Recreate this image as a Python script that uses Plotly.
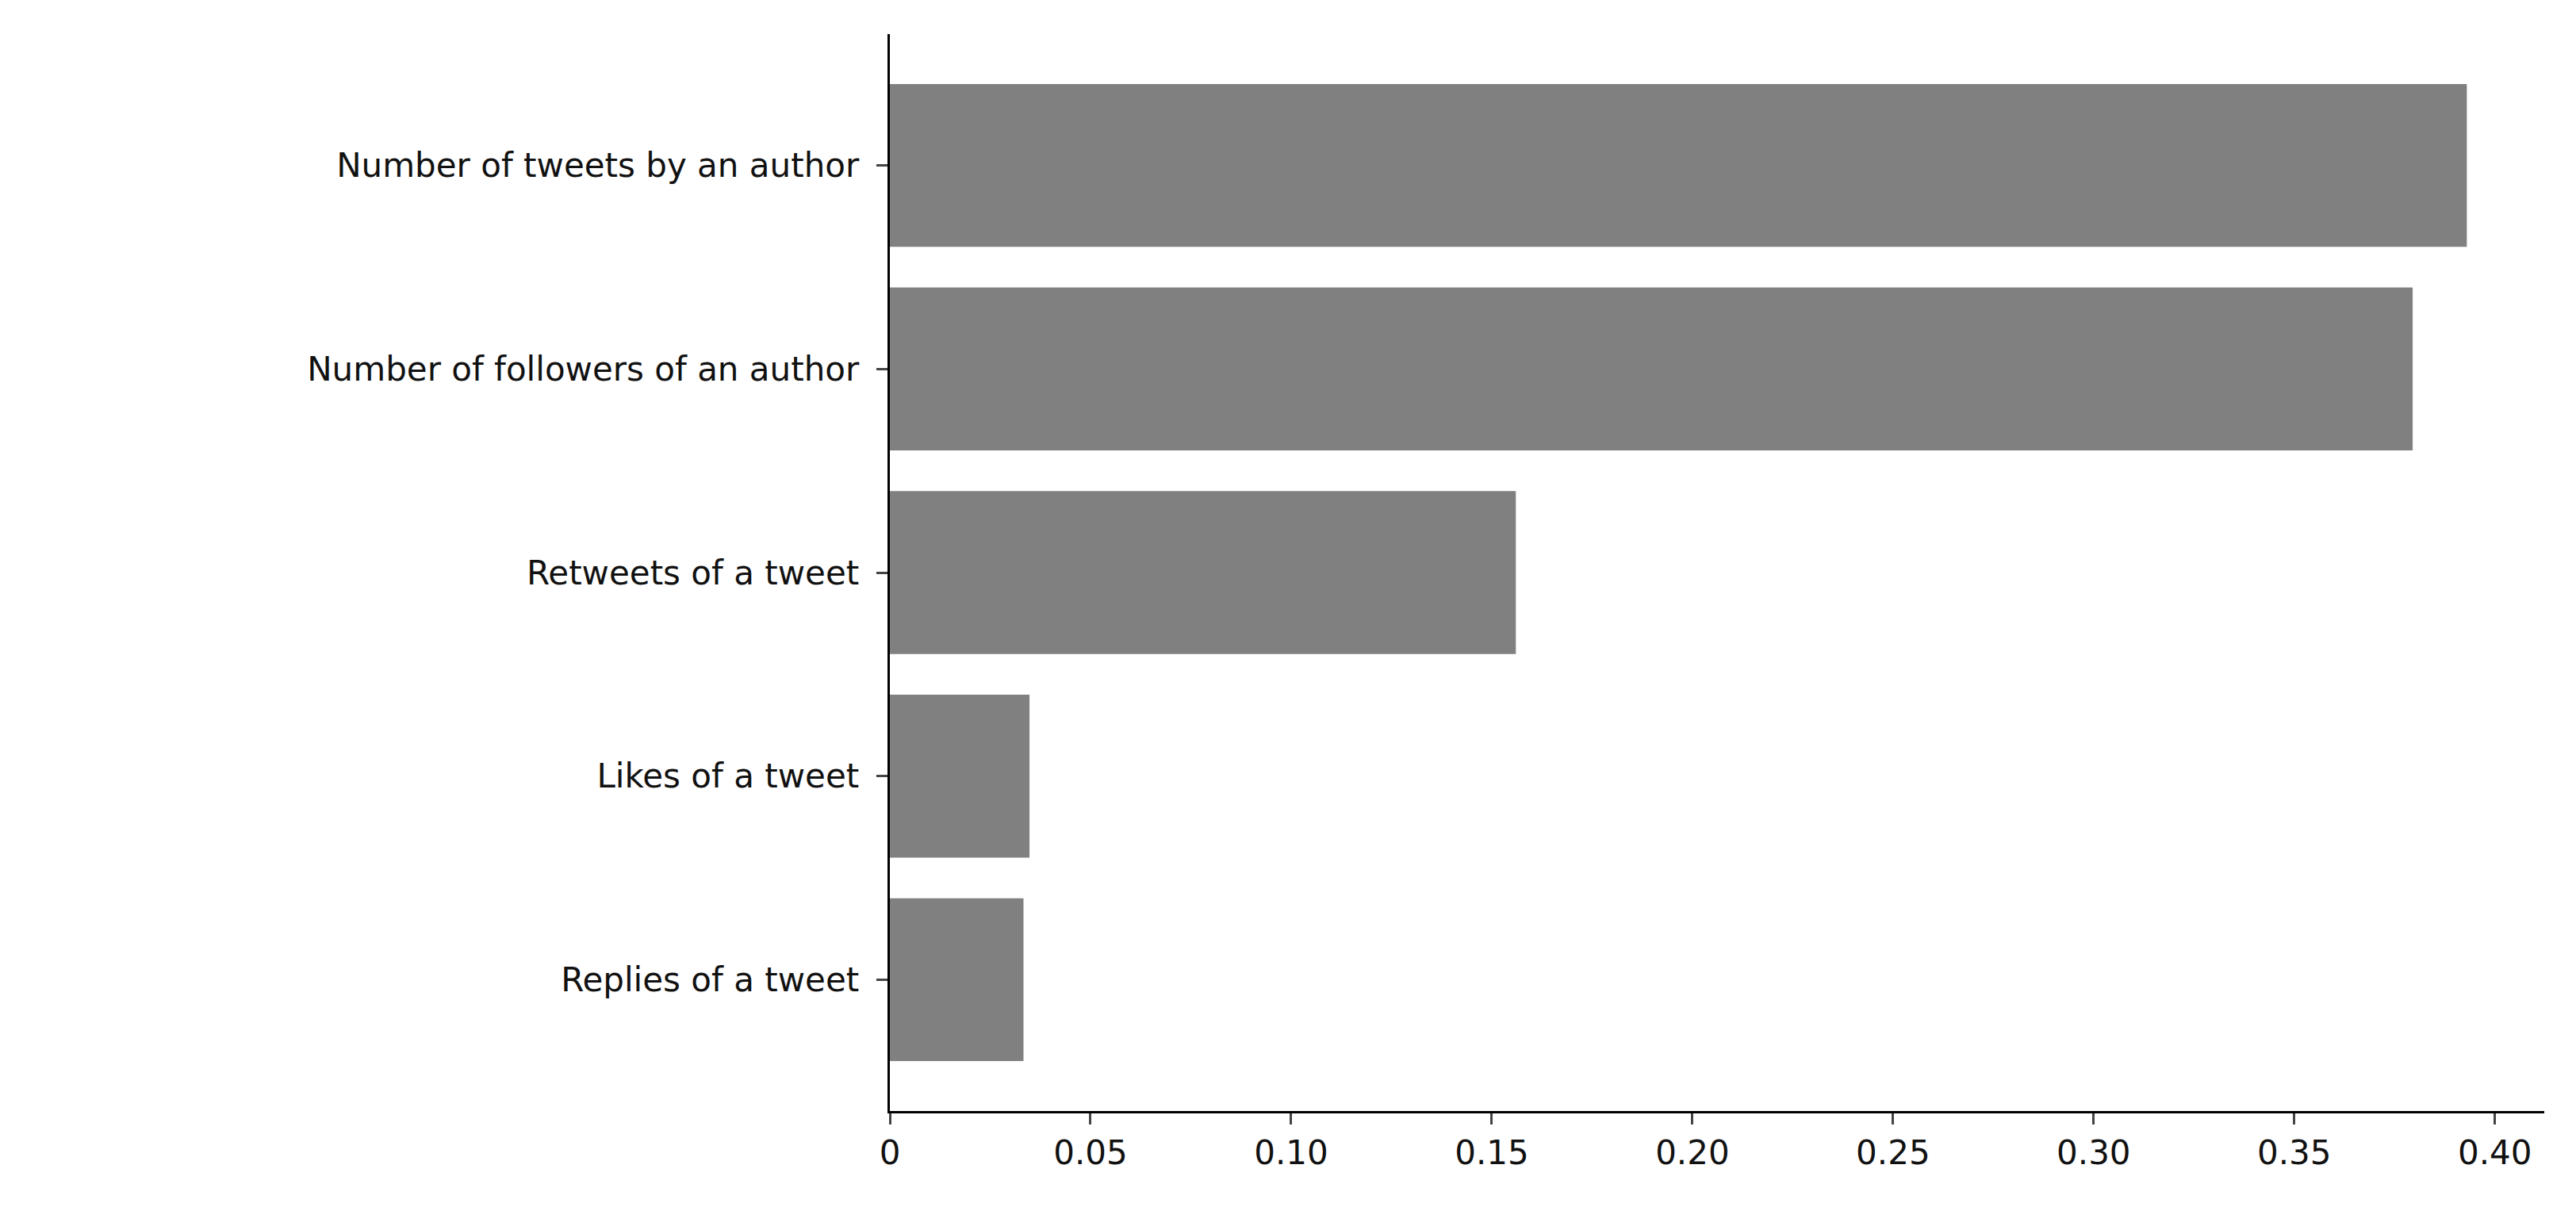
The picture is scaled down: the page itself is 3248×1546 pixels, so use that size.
import plotly.graph_objects as go

categories = ["Number of tweets by an author", "Number of followers of an author",
              "Retweets of a tweet", "Likes of a tweet", "Replies of a tweet"]
values = [0.393, 0.3795, 0.156, 0.0348, 0.0333]
tick_vals = [0, 0.05, 0.10, 0.15, 0.20, 0.25, 0.30, 0.35, 0.40]
tick_text = ["0", "0.05", "0.10", "0.15", "0.20", "0.25", "0.30", "0.35", "0.40"]

fig = go.Figure(go.Bar(x=values, y=categories, orientation="h",
                       marker=dict(color="#808080", line=dict(width=0)), width=0.8))
fig.update_layout(
    width=3248, height=1546, plot_bgcolor="white", paper_bgcolor="white",
    margin=dict(l=1114, r=48, t=35, b=153),
    font=dict(family="DejaVu Sans", size=42, color="#111111"),
    showlegend=False,
)
fig.update_xaxes(range=[0, 0.4123], tickvals=tick_vals, ticktext=tick_text,
                 showline=True, linecolor="black", linewidth=3, ticks="outside",
                 ticklen=14, tickwidth=3, showgrid=False, zeroline=False)
fig.update_yaxes(categoryorder="array", categoryarray=categories,
                 range=[4.645, -0.645], showline=True, linecolor="black", linewidth=3,
                 ticks="outside", ticklen=14, tickwidth=3, showgrid=False, zeroline=False,
                 ticksuffix=" ")
fig.write_html("out.html")
